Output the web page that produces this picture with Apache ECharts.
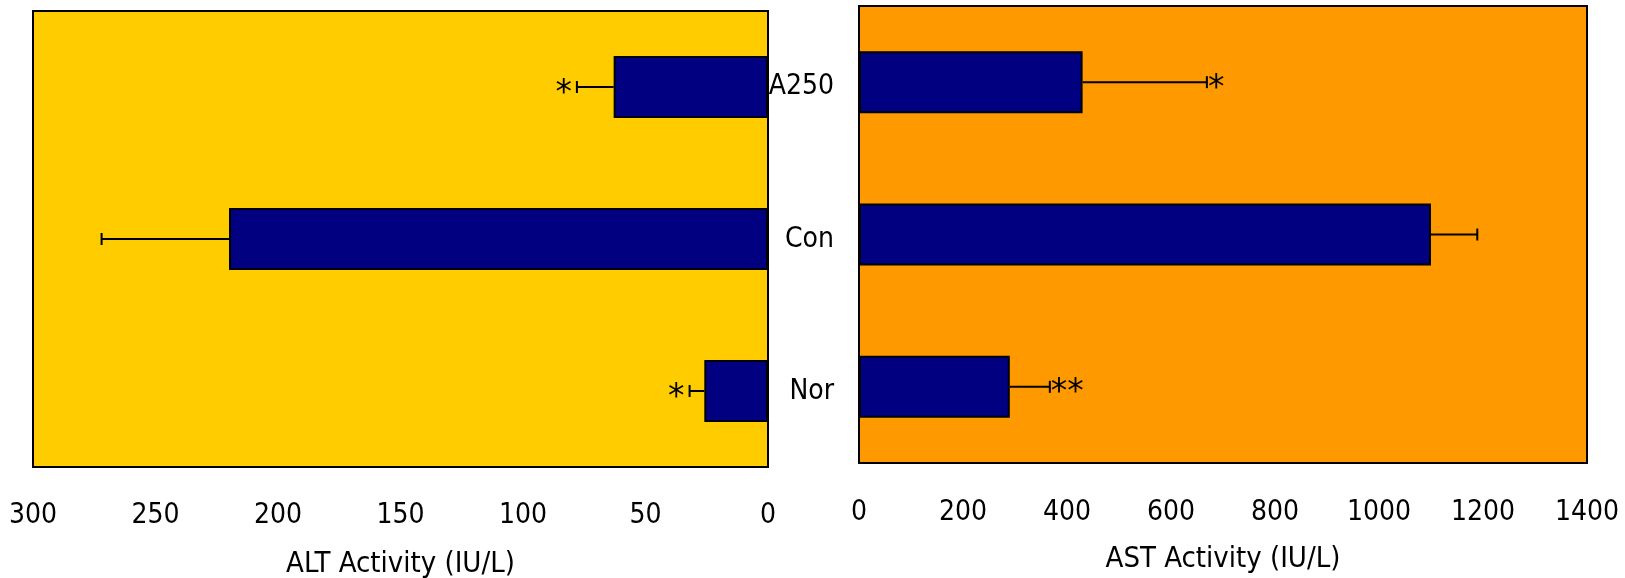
<!DOCTYPE html>
<html>
<head>
<meta charset="utf-8">
<script src="https://cdn.jsdelivr.net/npm/echarts@6/dist/echarts.min.js"></script>
<style>
html,body{margin:0;padding:0;background:#fff;}
#chart{width:1625px;height:578px;}
</style>
</head>
<body>
<div id="chart"></div>
<script>
// ---- data ----
const categories = ['Nor', 'Con', 'A250'];
const altMean = [26, 220, 63];
const altErr = [6, 52, 15];
const altSig = ['*', '', '*'];
const astMean = [290, 1100, 430];
const astErr = [77, 89, 239];
const astSig = ['**', '', '*'];
const altTickLabels = ['0', '50', '100', '150', '200', '250', '300'];
const astTickLabels = ['0', '200', '400', '600', '800', '1000', '1200', '1400'];
const altAxisName = 'ALT Activity (IU/L)';
const astAxisName = 'AST Activity (IU/L)';

const FONT = '"DejaVu Sans Condensed", "Liberation Sans", sans-serif';
const STARFONT = '"DejaVu Sans", sans-serif';

const altTicks = altTickLabels.map(Number);
const astTicks = astTickLabels.map(Number);

function errRender(sig, side) {
  return function (params, api) {
    const m = api.value(0), c = api.value(1), e = api.value(2);
    const p0 = api.coord([m, c]);
    const p1 = api.coord([m + e, c]);
    const h = 6;
    const ch = [
      { type: 'line', shape: { x1: p0[0], y1: p0[1], x2: p1[0], y2: p1[1] }, style: { stroke: '#000', lineWidth: 2 } },
      { type: 'line', shape: { x1: p1[0], y1: p1[1] - h, x2: p1[0], y2: p1[1] + h }, style: { stroke: '#000', lineWidth: 2 } }
    ];
    const s = sig[params.dataIndex];
    if (s) {
      ch.push({
        type: 'text',
        x: side < 0 ? p1[0] - 5 : p1[0] + 1,
        y: p1[1] + 7,
        style: { text: s, fill: '#000', fontSize: 33, fontFamily: STARFONT, align: side < 0 ? 'right' : 'left', verticalAlign: 'middle' }
      });
    }
    return { type: 'group', children: ch };
  };
}

const axisLineStyle = { color: '#000', width: 2 };

const option = {
  animation: false,
  backgroundColor: '#fff',
  grid: [
    { left: 33, top: 11, width: 735, height: 456, show: true, backgroundColor: '#FFCC00', borderColor: '#000', borderWidth: 2, outerBoundsMode: 'none', containLabel: false },
    { left: 859, top: 6, width: 728, height: 457, show: true, backgroundColor: '#FF9900', borderColor: '#000', borderWidth: 2, outerBoundsMode: 'none', containLabel: false }
  ],
  xAxis: [
    {
      type: 'value', gridIndex: 0, inverse: true,
      min: altTicks[0], max: altTicks[altTicks.length - 1], interval: altTicks[1] - altTicks[0],
      splitLine: { show: false },
      axisLine: { lineStyle: axisLineStyle },
      axisTick: { inside: true, length: 9, lineStyle: axisLineStyle },
      axisLabel: { margin: 35, fontSize: 28, color: '#000', fontFamily: FONT, formatter: (v) => altTickLabels[altTicks.indexOf(v)] },
      name: altAxisName, nameLocation: 'middle', nameGap: 83,
      nameTextStyle: { fontSize: 29, color: '#000', fontFamily: FONT }
    },
    {
      type: 'value', gridIndex: 1,
      min: astTicks[0], max: astTicks[astTicks.length - 1], interval: astTicks[1] - astTicks[0],
      splitLine: { show: false },
      axisLine: { lineStyle: axisLineStyle },
      axisTick: { inside: true, length: 9, lineStyle: axisLineStyle },
      axisLabel: { margin: 36, fontSize: 28, color: '#000', fontFamily: FONT, formatter: (v) => astTickLabels[astTicks.indexOf(v)] },
      name: astAxisName, nameLocation: 'middle', nameGap: 82,
      nameTextStyle: { fontSize: 29, color: '#000', fontFamily: FONT }
    }
  ],
  yAxis: [
    {
      type: 'category', gridIndex: 0, position: 'right', data: categories,
      axisLine: { lineStyle: axisLineStyle },
      axisTick: { inside: true, length: 8, lineStyle: axisLineStyle },
      axisLabel: { show: false }
    },
    {
      type: 'category', gridIndex: 1, position: 'left', data: categories,
      axisLine: { lineStyle: axisLineStyle },
      axisTick: { inside: true, length: 8, lineStyle: axisLineStyle },
      axisLabel: { margin: 25, fontSize: 28, color: '#000', fontFamily: FONT, verticalAlign: 'top', lineHeight: 10 }
    }
  ],
  series: [
    {
      type: 'bar', xAxisIndex: 0, yAxisIndex: 0, data: altMean, barWidth: 62,
      itemStyle: { color: '#000080', borderColor: '#000', borderWidth: 2 }
    },
    {
      type: 'custom', xAxisIndex: 0, yAxisIndex: 0,
      data: categories.map((c, i) => [altMean[i], i, altErr[i]]),
      encode: { x: 0, y: 1 },
      renderItem: errRender(altSig, -1), z: 5
    },
    {
      type: 'bar', xAxisIndex: 1, yAxisIndex: 1, data: astMean, barWidth: 62,
      itemStyle: { color: '#000080', borderColor: '#000', borderWidth: 2 }
    },
    {
      type: 'custom', xAxisIndex: 1, yAxisIndex: 1,
      data: categories.map((c, i) => [astMean[i], i, astErr[i]]),
      encode: { x: 0, y: 1 },
      renderItem: errRender(astSig, 1), z: 5
    }
  ]
};

const chart = echarts.init(document.getElementById('chart'), null, { renderer: 'canvas' });
chart.setOption(option);
</script>
</body>
</html>
